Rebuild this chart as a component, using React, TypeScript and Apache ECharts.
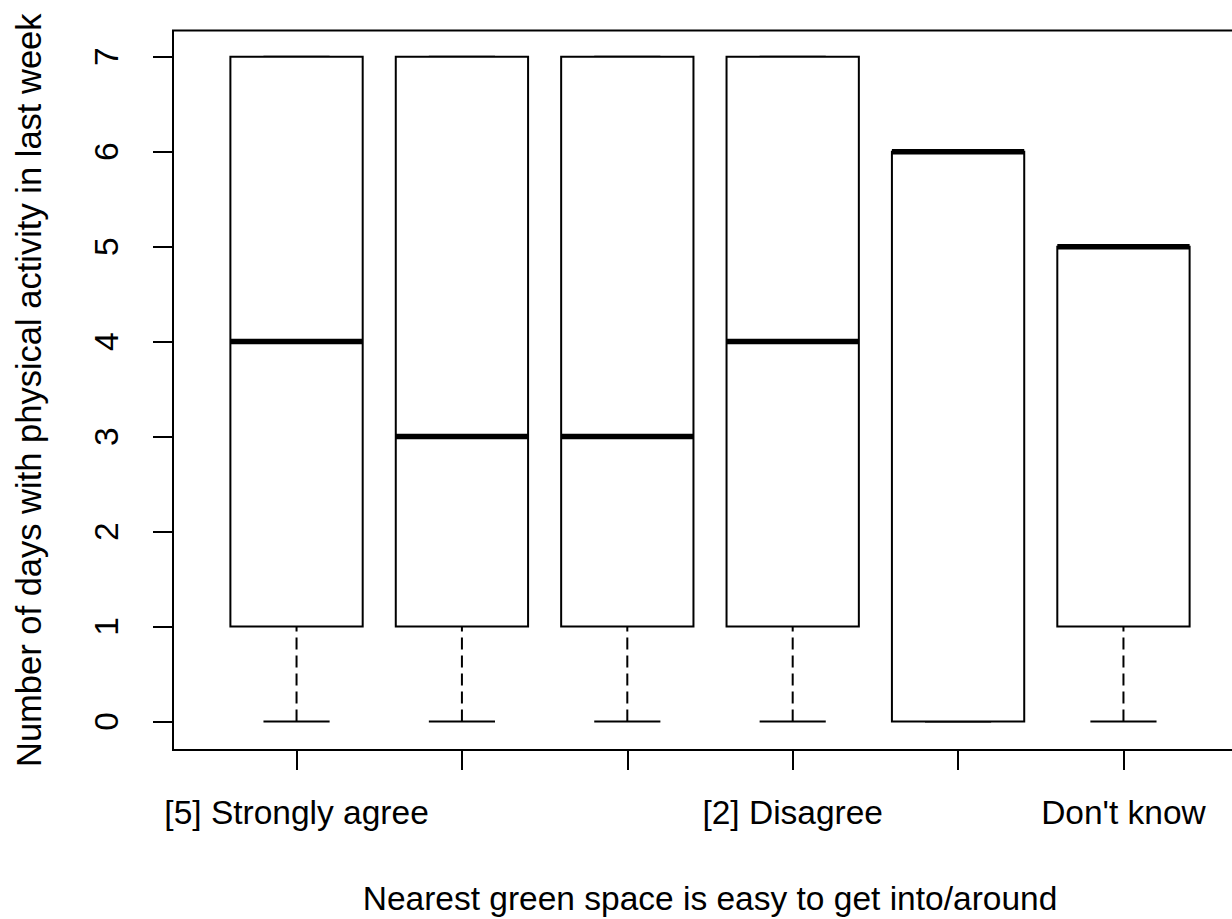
import React, { useEffect, useRef } from 'react';
import * as echarts from 'echarts';

const categories = [
  '[5] Strongly agree',
  '[4] Agree',
  '[3] Neither agree nor disagree',
  '[2] Disagree',
  '[1] Strongly disagree',
  "Don't know",
];
const lowerWhisker = [0, 0, 0, 0, 0, 0];
const lowerHinge = [1, 1, 1, 1, 0, 1];
const medians = [4, 3, 3, 4, 6, 5];
const upperHinge = [7, 7, 7, 7, 6, 5];
const upperWhisker = [7, 7, 7, 7, 6, 5];
const yTicks = [0, 1, 2, 3, 4, 5, 6, 7];
const shownLabelIdx = [0, 3, 5];
const xTitle = 'Nearest green space is easy to get into/around';
const yTitle = 'Number of days with physical activity in last week';

const FONT = "'Liberation Sans', Arial, sans-serif";
const FS = 33.5;

export default function App() {
  const ref = useRef<HTMLDivElement>(null);
  useEffect(() => {
    if (!ref.current) return;
    const chart = echarts.init(ref.current, null, { renderer: 'svg' });
    const data = categories.map((_, i) => [
      i + 1,
      lowerWhisker[i],
      lowerHinge[i],
      medians[i],
      upperHinge[i],
      upperWhisker[i],
    ]);
    const xPositions = categories.map((_, i) => i + 1);
    chart.setOption({
      animation: false,
      backgroundColor: '#fff',
      grid: {
        left: 173,
        top: 30.5,
        width: 1074,
        bottom: 169,
        outerBoundsMode: 'none',
        show: true,
        borderColor: '#000',
        borderWidth: 2,
        backgroundColor: 'transparent',
      },
      xAxis: {
        type: 'value',
        min: 0.253,
        max: 6.747,
        name: xTitle,
        nameLocation: 'middle',
        nameGap: 131,
        nameTextStyle: { color: '#000', fontSize: FS, fontFamily: FONT },
        axisLine: { show: false, onZero: false },
        splitLine: { show: false },
        axisTick: {
          show: true,
          length: 20,
          customValues: xPositions,
          lineStyle: { color: '#000', width: 2 },
        },
        axisLabel: {
          show: true,
          customValues: shownLabelIdx.map((i) => i + 1),
          formatter: (v: number) => categories[Math.round(v) - 1] ?? '',
          color: '#000',
          fontSize: FS,
          fontFamily: FONT,
          margin: 45,
        },
      },
      yAxis: {
        type: 'value',
        min: -0.3,
        max: 7.276,
        name: yTitle,
        nameLocation: 'middle',
        nameGap: 127,
        nameRotate: 90,
        nameTextStyle: { color: '#000', fontSize: 34.5, fontFamily: FONT },
        axisLine: { show: false, onZero: false },
        splitLine: { show: false },
        axisTick: {
          show: true,
          length: 20,
          customValues: yTicks,
          lineStyle: { color: '#000', width: 2 },
        },
        axisLabel: {
          show: true,
          customValues: yTicks,
          rotate: 90,
          color: '#000',
          fontSize: FS,
          fontFamily: FONT,
          margin: 50,
        },
      },
      series: [
        {
          type: 'custom',
          data,
          clip: false,
          renderItem: (_params: any, api: any) => {
            const x = api.value(0);
            const lo = api.value(1);
            const q1 = api.value(2);
            const med = api.value(3);
            const q3 = api.value(4);
            const hi = api.value(5);
            const [xc, yLo] = api.coord([x, lo]);
            const [, yHi] = api.coord([x, hi]);
            const [xl, yQ3] = api.coord([x - 0.4, q3]);
            const [xr, yQ1] = api.coord([x + 0.4, q1]);
            const [, yMed] = api.coord([x, med]);
            const [sl] = api.coord([x - 0.2, lo]);
            const [sr] = api.coord([x + 0.2, lo]);
            const thin = { stroke: '#000', lineWidth: 2 };
            const dashed = { stroke: '#000', lineWidth: 2, lineDash: [12, 6] };
            return {
              type: 'group',
              children: [
                { type: 'line', shape: { x1: xc, y1: yLo, x2: xc, y2: yQ1 }, style: dashed },
                { type: 'line', shape: { x1: xc, y1: yHi, x2: xc, y2: yQ3 }, style: dashed },
                { type: 'line', shape: { x1: sl, y1: yLo, x2: sr, y2: yLo }, style: thin },
                { type: 'line', shape: { x1: sl, y1: yHi, x2: sr, y2: yHi }, style: thin },
                {
                  type: 'rect',
                  shape: { x: xl, y: yQ3, width: xr - xl, height: yQ1 - yQ3 },
                  style: { fill: '#fff', stroke: '#000', lineWidth: 2 },
                },
                {
                  type: 'line',
                  shape: { x1: xl, y1: yMed, x2: xr, y2: yMed },
                  style: { stroke: '#000', lineWidth: 5.5 },
                },
              ],
            };
          },
        },
      ],
    });
    return () => chart.dispose();
  }, []);
  return (
    <div
      style={{
        position: 'absolute',
        left: 0,
        top: 0,
        width: 1232,
        height: 919,
        overflow: 'hidden',
        background: '#fff',
      }}
    >
      <div ref={ref} style={{ width: 1270, height: 919 }} />
    </div>
  );
}
